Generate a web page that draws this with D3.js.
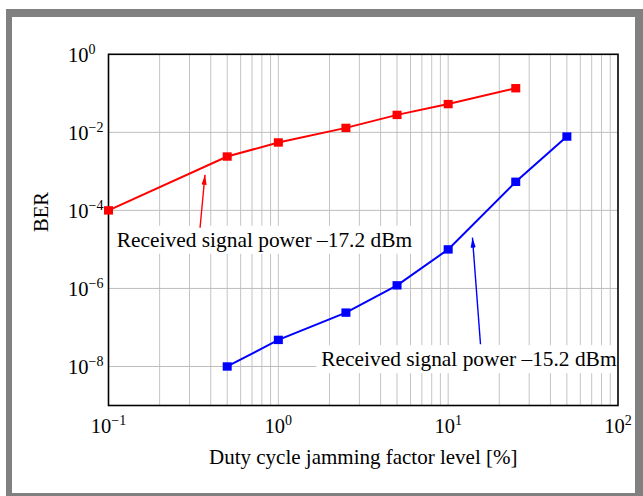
<!DOCTYPE html>
<html>
<head>
<meta charset="utf-8">
<script src="https://cdn.jsdelivr.net/npm/d3@7"></script>
<style>
  body { margin: 0; background: #fff; }
  text { font-family: "Liberation Serif", "Times New Roman", serif; fill: #000; }
</style>
</head>
<body>
<svg id="chart"></svg>
<script>
// duty cycle [%] and BER
const redX = [0.1, 0.5, 1, 2.5, 5, 10, 25];
const redBER = [1e-4, 2.4e-3, 5.5e-3, 1.3e-2, 2.8e-2, 5.3e-2, 0.135];
const blueX = [0.5, 1, 2.5, 5, 10, 25, 50];
const blueBER = [1e-8, 4.8e-8, 2.4e-7, 1.2e-6, 1e-5, 5.4e-4, 7.8e-3];
const xTickExp = [-1, 0, 1, 2];
const yTickExp = [0, -2, -4, -6, -8];
const seriesLabels = ["Received signal power \u201317.2 dBm", "Received signal power \u201315.2 dBm"];

const W = 643, H = 496;
const margin = { left: 108.5, right: 618, top: 54.3, bottom: 405.5 };

const svg = d3.select('#chart').attr('width', W).attr('height', H);

// grey frame
svg.append('rect').attr('x', 6).attr('y', 9).attr('width', W).attr('height', H).attr('fill', '#808080');
svg.append('rect').attr('x', 12).attr('y', 17).attr('width', 623).attr('height', 476).attr('fill', '#fff');

const x = d3.scaleLog().domain([0.1, 100]).range([margin.left, margin.right]);
const y = d3.scaleLog().domain([1e-9, 1]).range([margin.bottom, margin.top]);

// grid
const grid = svg.append('g');
grid.selectAll('line.v')
    .data(x.ticks().filter(d => d > 0.1 && d < 100))
    .enter().append('line')
    .attr('x1', d => x(d)).attr('x2', d => x(d))
    .attr('y1', margin.top).attr('y2', margin.bottom)
    .attr('stroke', '#c4c4c4').attr('stroke-width', 1);
grid.selectAll('line.h')
    .data(yTickExp.filter(e => e > -9 && e < 0))
    .enter().append('line')
    .attr('x1', margin.left).attr('x2', margin.right)
    .attr('y1', e => y(Math.pow(10, e))).attr('y2', e => y(Math.pow(10, e)))
    .attr('stroke', '#bdbdbd').attr('stroke-width', 1);

// annotations (data coords)
const notes = [
    { text: seriesLabels[0], color: 'red', at: [0.112, 1.17e-5], from: [0.346, 3.6e-5], to: [0.37, 8.2e-4] },
    { text: seriesLabels[1], color: 'blue', at: [1.79, 1.02e-8], from: [15.5, 3.7e-8], to: [13.9, 2e-5] }
];

const noteG = svg.append('g');
const noteText = [];
notes.forEach(n => {
    const box = noteG.append('rect').attr('fill', '#fff');
    const t = svg.append('text')
        .attr('x', x(n.at[0])).attr('y', y(n.at[1]))
        .attr('font-size', '21.4px')
        .text(n.text);
    noteText.push({ box: box, t: t });
});

// axis box
svg.append('rect')
    .attr('x', margin.left).attr('y', margin.top)
    .attr('width', margin.right - margin.left).attr('height', margin.bottom - margin.top)
    .attr('fill', 'none').attr('stroke', '#000').attr('stroke-width', 1.6);

// series
const line = d3.line().x(d => x(d[0])).y(d => y(d[1]));
const series = [
    { xs: redX, ys: redBER, color: '#ff0000' },
    { xs: blueX, ys: blueBER, color: '#0000ff' }
];
series.forEach(s => {
    const pts = s.xs.map((v, i) => [v, s.ys[i]]);
    svg.append('path')
        .attr('d', line(pts))
        .attr('fill', 'none').attr('stroke', s.color).attr('stroke-width', 2);
    svg.selectAll(null)
        .data(pts)
        .enter().append('rect')
        .attr('x', d => x(d[0]) - 4.5).attr('y', d => y(d[1]) - 4.2)
        .attr('width', 9).attr('height', 8.4)
        .attr('fill', s.color);
});

// arrows
const defs = svg.append('defs');
notes.forEach((n, i) => {
    defs.append('marker')
        .attr('id', 'arr' + i)
        .attr('markerUnits', 'userSpaceOnUse')
        .attr('viewBox', '0 -3 10 6')
        .attr('refX', 10).attr('refY', 0)
        .attr('markerWidth', 10).attr('markerHeight', 6)
        .attr('orient', 'auto')
        .append('path').attr('d', 'M0,-2.6L10,0L0,2.6Z').attr('fill', n.color);
    svg.append('line')
        .attr('x1', x(n.from[0])).attr('y1', y(n.from[1]))
        .attr('x2', x(n.to[0])).attr('y2', y(n.to[1]))
        .attr('stroke', n.color).attr('stroke-width', 1.4)
        .attr('marker-end', 'url(#arr' + i + ')');
});

// label boxes sized from text
noteText.forEach(o => {
    const b = o.t.node().getBBox();
    o.box.attr('x', b.x - 5).attr('y', b.y - 2).attr('width', b.width + 9).attr('height', b.height + 4);
});

// tick labels
function powLabel(g, e) {
    g.append('tspan').text('10');
    g.append('tspan').attr('dy', -8).attr('font-size', '14px')
        .text(e < 0 ? '\u2212' + (-e) : String(e));
}
xTickExp.forEach(e => {
    const t = svg.append('text')
        .attr('x', x(Math.pow(10, e))).attr('y', margin.bottom + 27)
        .attr('text-anchor', 'middle').attr('font-size', '20.5px');
    powLabel(t, e);
});
yTickExp.forEach(e => {
    const t = svg.append('text')
        .attr('x', 68).attr('y', y(Math.pow(10, e)) + 8)
        .attr('font-size', '20.5px');
    powLabel(t, e);
});

// axis titles
svg.append('text')
    .attr('x', (margin.left + margin.right) / 2).attr('y', 464)
    .attr('text-anchor', 'middle').attr('font-size', '21px')
    .text('Duty cycle jamming factor level [%]');
svg.append('text')
    .attr('transform', 'translate(48,212) rotate(-90)')
    .attr('text-anchor', 'middle').attr('font-size', '20.5px')
    .text('BER');
</script>
</body>
</html>
